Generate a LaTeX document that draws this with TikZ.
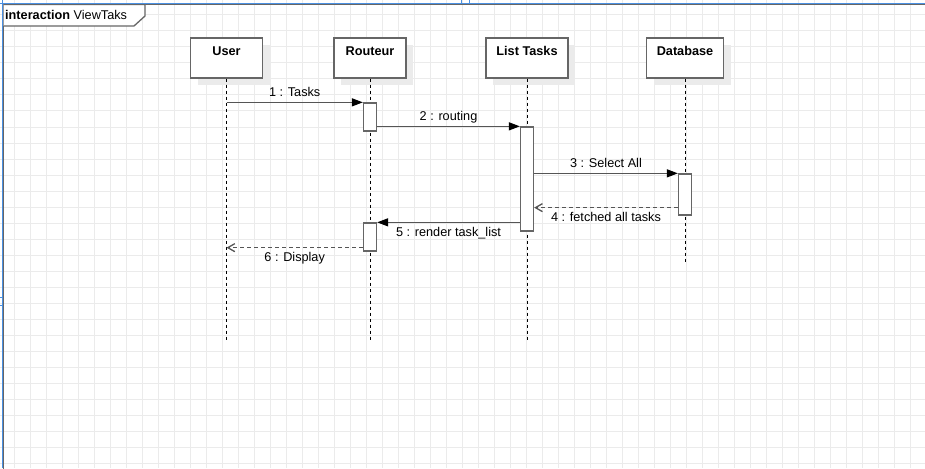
\documentclass[tikz,border=0pt]{standalone}
\usepackage{fontspec}
\setmainfont{Liberation Sans}
\usetikzlibrary{arrows.meta,calc,shadows}
\definecolor{gridc}{HTML}{EBEBEB}
\definecolor{edgec}{HTML}{666666}
\definecolor{msgc}{HTML}{555555}
\definecolor{selblue}{HTML}{4A90E2}
\definecolor{shadec}{HTML}{EBEBEB}
\begin{document}
\begin{tikzpicture}[x=1pt,y=-1pt,
  gridline/.style={draw=gridc, line width=1pt},
  head/.style={draw=edgec, line width=1.3pt, fill=white, inner xsep=0pt, inner ysep=0pt,
    text height=18pt, text depth=22pt, font=\fontsize{12.7}{14}\selectfont\bfseries,
    general shadow={fill=shadec, shadow xshift=7pt, shadow yshift=-7pt}},
  act/.style={draw=edgec, line width=1.3pt, fill=white, minimum width=13pt, inner sep=0pt},
  life/.style={draw=black, line width=1pt, dash pattern=on 3pt off 3pt},
  msg/.style={draw=msgc, line width=1.3pt, -{Triangle[length=11pt,width=8pt,color=black]}},
  ret/.style={draw=msgc, line width=1.3pt, dash pattern=on 4pt off 3pt,
    -{Straight Barb[length=7pt,width=8pt,color=msgc]}},
  lbl/.style={font=\fontsize{12.7}{14}\selectfont, anchor=base, inner sep=0pt}]
\useasboundingbox (0,0) rectangle (925,468);
\fill[white] (0,0) rectangle (925,468);
% background grid
\foreach \gx in {14,30,...,926} \draw[gridline] (\gx,0) -- (\gx,468);
\foreach \gy in {15,31,...,468} \draw[gridline] (0,\gy) -- (925,\gy);
% interaction frame
\draw[edgec, line width=1.3pt] (3.5,470) -- (3.5,4.5) -- (930,4.5);
\draw[edgec, line width=1.3pt, fill=white] (3.5,4.5) -- (145,4.5) -- (145,16) -- (134,26) -- (3.5,26);
\node[anchor=base west, inner sep=0pt, font=\fontsize{12.7}{14}\selectfont] (frametitle) at (5,20)
  {\textbf{interaction} ViewTaks};
% selection outline
\draw[selblue, line width=1.3pt] (2.3,0) -- (2.3,468);
\draw[selblue, line width=1.3pt] (0,3.2) -- (925,3.2);
\draw[selblue, line width=1pt] (461,0) -- (461,3) (469,0) -- (469,3);
\draw[selblue, line width=1pt] (0,297) -- (3,297) (0,305) -- (3,305);
% lifeline ends
\coordinate (userEnd) at (226.5,340);
\coordinate (routEnd) at (370,340);
\coordinate (listEnd) at (527,340);
\coordinate (dbEnd) at (685,262);
% lifeline heads
\node[head, minimum width=72pt] (user) at (226.5,58) {User};
\node[head, minimum width=72pt] (rout) at (370,58) {Routeur};
\node[head, minimum width=82pt] (list) at (527,58) {List Tasks};
\node[head, minimum width=77pt] (db) at (685,58) {Database};
% lifelines
\draw[life] (user.south) -- (userEnd);
\draw[life] (rout.south) -- (routEnd);
\draw[life] (list.south) -- (listEnd);
\draw[life] (db.south) -- (dbEnd);
% activations
\node[act, minimum height=28pt] (r1) at (370,117) {};
\node[act, minimum height=104pt] (lt) at (527,179) {};
\node[act, minimum height=41pt] (da) at (685,194.5) {};
\node[act, minimum height=28pt] (r2) at (370,237) {};
% messages
\draw[msg] (r1.north west -| user) -- (r1.north west)
  node[lbl, midway, yshift=6pt] (m1) {1 : Tasks};
\draw[msg] (lt.north west -| r1.east) -- (lt.north west)
  node[lbl, midway, yshift=6pt] (m2) {2 : routing};
\draw[msg] (da.north west -| lt.east) -- (da.north west)
  node[lbl, midway, yshift=5.6pt] (m3) {3 : Select All};
\coordinate (d4) at ($(da.south west)+(0,-8)$);
\draw[ret] (d4) -- (d4 -| lt.east)
  node[lbl, midway, yshift=-13.7pt] (m4) {4 : fetched all tasks};
\draw[msg] (r2.north east -| lt.west) -- (r2.north east)
  node[lbl, midway, yshift=-13.7pt] (m5) {5 : render task\_list};
\coordinate (d6) at ($(r2.south west)+(0,-4)$);
\draw[ret] (d6) -- (d6 -| user)
  node[lbl, midway, yshift=-14pt] (m6) {6 : Display};
\end{tikzpicture}
\end{document}
